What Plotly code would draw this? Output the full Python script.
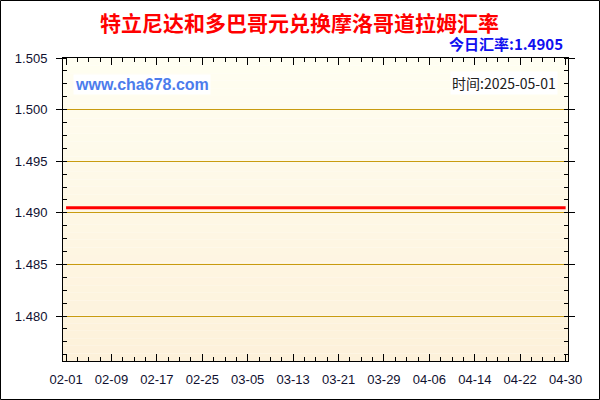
import pandas as pd
import plotly.graph_objects as go

# data
dates = pd.date_range('2025-02-01', '2025-04-30', freq='D')
rate = [1.4905] * len(dates)

title_text = '特立尼达和多巴哥元兑换摩洛哥道拉姆汇率'
today_text = '今日汇率:1.4905'
site_text = 'www.cha678.com'
time_text = '时间:2025-05-01'

grid_col = '#C89B10'
tick_font = dict(family='Liberation Sans, Arial', size=13, color='#101030')

def axisDict():
    axDICT = dict(linecolor='black',
                  linewidth=1,
                  mirror='allticks',
                  ticks='inside',
                  ticklen=7,
                  tickcolor='black',
                  showgrid=True,
                  gridcolor=grid_col,
                  gridwidth=1,
                  zeroline=False,
                  tickfont=tick_font,
                  minor=dict(ticks='inside', ticklen=4, tickcolor='black', showgrid=False))
    return axDICT

fig = go.Figure()
fig.add_trace(go.Scatter(x=dates, y=rate, mode='lines',
                         line=dict(color='#FF0000', width=3), hoverinfo='skip'))

# gradient background, cream at top to light tan at bottom
top_rgb = (255, 254, 241)
bot_rgb = (253, 241, 218)
n_bands = 40
for i in range(n_bands):
    t = i / (n_bands - 1)
    c = tuple(round(top_rgb[k] + (bot_rgb[k] - top_rgb[k]) * t) for k in range(3))
    fig.add_shape(type='rect', xref='paper', yref='paper',
                  x0=0, x1=1, y0=1 - (i + 1) / n_bands, y1=1 - i / n_bands,
                  fillcolor='rgb(%d,%d,%d)' % c, line_width=0, layer='below')

xa = axisDict()
xa.update(dict(type='date', range=['2025-01-31 11:00', '2025-04-30 10:00'],
               tick0='2025-02-01', dtick=8 * 86400000, tickformat='%m-%d',
               showgrid=False, ticklabelstandoff=6))
xa['minor'].update(dict(tick0='2025-02-01', dtick=2 * 86400000))
ya = axisDict()
ya.update(dict(range=[1.47564, 1.505], tick0=1.48, dtick=0.005, tickformat='.3f',
               ticks='outside', ticklen=6, ticklabelstandoff=6))
ya['minor'].update(dict(tick0=1.48, dtick=0.00125))

fig.update_layout(
    width=600, height=400,
    margin=dict(l=63, r=32, t=58, b=39),
    paper_bgcolor='white',
    plot_bgcolor='rgba(0,0,0,0)',
    font=dict(family='Liberation Sans, Arial'),
    showlegend=False,
    xaxis=xa, yaxis=ya,
)

fig.add_annotation(text='<b>' + title_text + '</b>', xref='paper', yref='paper',
                   x=0.4693, y=1, xanchor='center', yanchor='middle', yshift=36,
                   showarrow=False,
                   font=dict(family='Noto Sans CJK SC', size=21, color='#FF0000'))
fig.add_annotation(text='<b>' + today_text + '</b>', xref='paper', yref='paper',
                   x=0.994, y=1, xanchor='right', yanchor='middle', yshift=15,
                   showarrow=False,
                   font=dict(family='Noto Sans CJK SC, Liberation Sans', size=15, color='#1010F0'))
fig.add_annotation(text='<b>' + site_text + '</b>', xref='paper', yref='paper',
                   x=0.02, y=1, xanchor='left', yanchor='middle', yshift=-26,
                   showarrow=False, bgcolor='white',
                   font=dict(family='Liberation Sans, Arial', size=16, color='#4C7CEC'))
fig.add_annotation(text=time_text, xref='paper', yref='paper',
                   x=0.981, y=1, xanchor='right', yanchor='middle', yshift=-25,
                   showarrow=False, bgcolor='white',
                   font=dict(family='Noto Sans CJK SC, Liberation Sans', size=14, color='#202020'))

# outer frame
fig.add_shape(type='rect', xref='paper', yref='paper',
              x0=-62.5 / 505, x1=1 + 31.5 / 505, y0=-38.5 / 303, y1=1 + 57.5 / 303,
              line=dict(color='black', width=1), fillcolor='rgba(0,0,0,0)', layer='above')

# page body has a default margin, drop it so the figure sits at 0,0
fig.write_html('out.html', config={'displayModeBar': False},
               post_script="document.body.style.margin='0px';")
